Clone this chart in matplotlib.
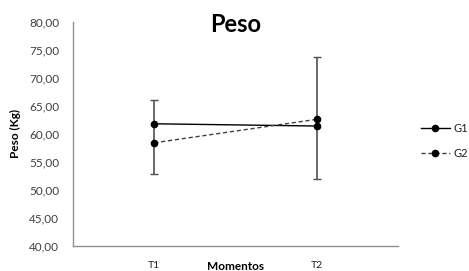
import matplotlib
matplotlib.use("Agg")
import matplotlib.pyplot as plt
import numpy as np

categories = ["T1", "T2"]
g1 = [61.8, 61.4]
g2 = [58.4, 62.6]
# error bar extents
err_low = [52.8, 51.9]
err_high = [66.1, 73.8]
yticks = [40, 45, 50, 55, 60, 65, 70, 75, 80]

plt.rcParams['font.family'] = ['Lato', 'DejaVu Sans']

fig = plt.figure(figsize=(4.69, 2.71), dpi=100)
ax = fig.add_axes([73/469, 1-245.7/271, (398-73)/469, (245.7-22)/271])

x = np.arange(len(categories))
ylow = [g1[i] - err_low[i] for i in range(2)]
yhigh = [err_high[i] - g1[i] for i in range(2)]
ax.errorbar(x, g1, yerr=[ylow, yhigh], fmt='none', ecolor='#505050',
            elinewidth=1.2, capsize=3, capthick=1, zorder=1)
ax.plot(x, g1, color='black', lw=1, marker='o', ms=4.5, label='G1', zorder=3)
ax.plot(x, g2, color='#404040', lw=1, ls=(0, (3, 2)), marker='o', ms=4.5,
        mfc='black', mec='black', label='G2', zorder=3)

ax.set_xlim(-0.5, 1.5)
ax.set_ylim(40, 80)
ax.set_yticks(yticks)
ax.set_yticklabels([f"{v:.2f}".replace('.', ',') for v in yticks],
                   fontsize=8.5, color='#404040')
ax.set_xticks(x)
ax.set_xticklabels(categories, fontsize=7.5, color='#202020')
ax.tick_params(axis='y', length=0, pad=10)
ax.tick_params(axis='x', length=0, pad=11)
for s in ['top', 'right']:
    ax.spines[s].set_visible(False)
for s in ['left', 'bottom']:
    ax.spines[s].set_color('#909090')
    ax.spines[s].set_linewidth(1)

fig.text(236/469, 1-25/271, "Peso", fontsize=17, fontweight='bold',
         ha='center', va='center')
fig.text(15/469, 1-134/271, "Peso (Kg)", fontsize=8.5, fontweight='bold',
         rotation=90, ha='center', va='center')
fig.text(236/469, 1-261/271, "Momentos", fontsize=8.5, fontweight='bold',
         ha='center', va='top')

leg = ax.legend(loc='center left', bbox_to_anchor=(421/469, 1-141/271),
                bbox_transform=fig.transFigure, frameon=False, fontsize=8,
                handlelength=2.6, handletextpad=0.3, labelspacing=1.2,
                borderpad=0, borderaxespad=0)
for t in leg.get_texts():
    t.set_color('#202020')

fig.savefig("out.png", dpi=100)
